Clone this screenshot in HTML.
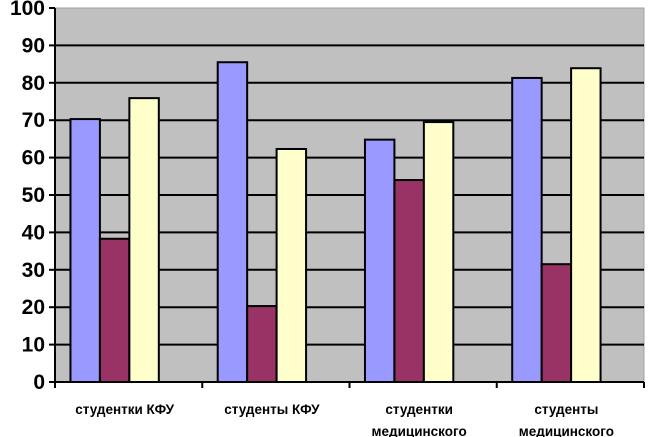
<!DOCTYPE html>
<html><head><meta charset="utf-8"><style>
body{margin:0;background:#fff;}
svg{display:block;font-family:"Liberation Sans",sans-serif;font-weight:bold;}
</style></head><body>
<svg id="chart" width="649" height="437" xmlns="http://www.w3.org/2000/svg"></svg>
<script>
const categories = [["студентки КФУ"],["студенты КФУ"],["студентки","медицинского"],["студенты","медицинского"]];
const series1 = [70.3, 85.5, 64.8, 81.3];
const series2 = [38.3, 20.3, 54.0, 31.5];
const series3 = [75.9, 62.3, 69.5, 83.9];
const yTicks = [0,10,20,30,40,50,60,70,80,90,100];
const colors = ["#9999ff","#993366","#ffffcc"];
const L=55,R=644,T=8,B=382;
const svg=document.getElementById('chart');
const NS='http://www.w3.org/2000/svg';
function y(v){return B-(v/100)*(B-T);}
const gw=(R-L)/categories.length;
function mk(tag,attrs,parent){const e=document.createElementNS(NS,tag);for(const k in attrs)e.setAttribute(k,attrs[k]);(parent||svg).appendChild(e);return e;}
const bg=mk('rect',{x:L,y:T,width:R-L,height:B-T,fill:'#c0c0c0',stroke:'#a0a0a0','stroke-width':1});


yTicks.forEach(t=>{
  if(t>0&&t<100){const g=mk('line',{x1:L,x2:R,y1:y(t),y2:y(t),stroke:'#000','stroke-width':2});
  
  }
  const tk=mk('line',{x1:L-6,x2:L,y1:y(t),y2:y(t),stroke:'#000','stroke-width':2});
  
  
  const tx=mk('text',{x:L-10,y:y(t)+7,'text-anchor':'end','font-size':21});
  tx.textContent=t;
  
  
});
const all=[series1,series2,series3];
const bw=gw*0.2;
categories.forEach((c,i)=>{
  const x0=L+i*gw+gw*0.105;
  all.forEach((s,j)=>{
    const r=mk('rect',{x:x0+j*bw,y:y(s[i]),width:bw,height:B-y(s[i]),fill:colors[j],stroke:'#000','stroke-width':2});
    
    
  });
  c.forEach((line,k)=>{
    const t=mk('text',{x:L+i*gw+gw/2-4,y:414+k*22,'text-anchor':'middle','font-size':13.5});
    t.textContent=line;
    
    
  });
});
for(let i=0;i<=categories.length;i++){
  const tk=mk('line',{x1:L+i*gw,x2:L+i*gw,y1:B,y2:B+6,stroke:'#000','stroke-width':2});
  
  
}
const ya=mk('line',{x1:L,x2:L,y1:T,y2:B,stroke:'#000','stroke-width':2});


const xa=mk('line',{x1:L-6,x2:R,y1:B,y2:B,stroke:'#000','stroke-width':2});


</script>
</body></html>
